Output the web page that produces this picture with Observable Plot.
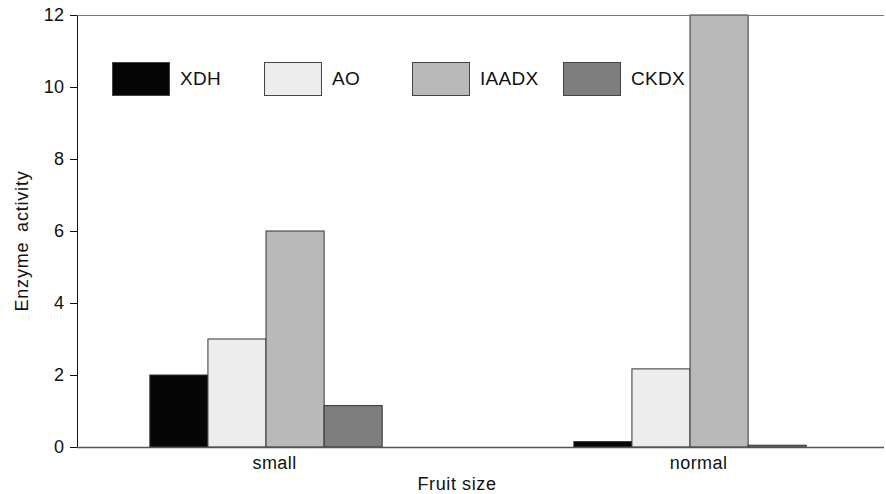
<!DOCTYPE html>
<html>
<head>
<meta charset="utf-8">
<script src="https://cdn.jsdelivr.net/npm/d3@7"></script>
<script src="https://cdn.jsdelivr.net/npm/@observablehq/plot@0.6"></script>
<style>
  html, body { margin: 0; padding: 0; background: #fff; }
  #wrap { position: relative; width: 886px; height: 494px; font-family: "Liberation Sans", Arial, sans-serif; color: #111; }
  #wrap svg text { font-size: 18px; fill: #111; letter-spacing: 0.4px; }
  #legend { position: absolute; left: 112px; top: 62px; display: flex; font-size: 19px; }
  .item { display: flex; align-items: center; }
  .sw { width: 58px; height: 34px; border: 1px solid #444; box-sizing: border-box; }
  .lab { margin-left: 10px; letter-spacing: 0.3px; }
  #xlab { position: absolute; left: 457px; top: 484px; font-size: 18px; letter-spacing: 0.6px; transform: translate(-50%, -50%); white-space: nowrap; }
  #ylab { position: absolute; left: 22px; top: 241px; font-size: 18px; letter-spacing: 0.8px; word-spacing: 4px; transform: translate(-50%, -50%) rotate(-90deg); white-space: nowrap; }
</style>
</head>
<body>
<div id="wrap"><div id="legend"></div><div id="xlab"></div><div id="ylab"></div></div>
<script>
const sizes = ["small", "normal"];
const enzymes = ["XDH", "AO", "IAADX", "CKDX"];
const xdh = [2.0, 0.15];
const ao = [3.0, 2.17];
const iaadx = [6.0, 12.0];
const ckdx = [1.15, 0.05];
const yTicks = [0, 2, 4, 6, 8, 10, 12];
const colors = ["#050505", "#ededed", "#b9b9b9", "#7e7e7e"];
const xTitle = "Fruit size";
const yTitle = "Enzyme activity";

const series = [xdh, ao, iaadx, ckdx];
const barW = 0.137;
const labelShift = 0.019;
const rows = [];
sizes.forEach((s, i) => {
  enzymes.forEach((e, j) => {
    rows.push({size: s, enzyme: e, value: series[j][i], x1: i + (j - 2) * barW, x2: i + (j - 1) * barW});
  });
});

const chart = Plot.plot({
  width: 886,
  height: 494,
  marginLeft: 77,
  marginRight: 2,
  marginTop: 15,
  marginBottom: 47,
  style: {fontFamily: "Liberation Sans, Arial, sans-serif", fontSize: "18px", color: "#111", background: "#fff"},
  x: {
    domain: [-0.4458, 1.4575],
    ticks: sizes.map((s, i) => i + labelShift),
    tickFormat: v => sizes[Math.round(v)],
    tickSize: 0,
    tickPadding: 9,
    label: null
  },
  y: {
    domain: [0, 12],
    ticks: yTicks,
    tickSize: 7,
    tickPadding: 6,
    line: true,
    label: null
  },
  color: {domain: enzymes, range: colors},
  marks: [
    Plot.rectY(rows, {x1: "x1", x2: "x2", y: "value", fill: "enzyme", stroke: "#333", strokeWidth: 1}),
    Plot.ruleY([0], {stroke: "#555", strokeWidth: 1.5}),
    Plot.ruleY([12], {stroke: "#777", strokeWidth: 1.2})
  ]
});
document.getElementById("wrap").prepend(chart);
document.getElementById("xlab").textContent = xTitle;
document.getElementById("ylab").textContent = yTitle;

const legend = document.getElementById("legend");
const gaps = [152, 148, 151, 0];
enzymes.forEach((e, j) => {
  const it = document.createElement("div");
  it.className = "item";
  it.style.width = gaps[j] ? gaps[j] + "px" : "auto";
  const sw = document.createElement("div");
  sw.className = "sw";
  sw.style.background = colors[j];
  const lab = document.createElement("span");
  lab.className = "lab";
  lab.textContent = e;
  it.append(sw, lab);
  legend.append(it);
});
</script>
</body>
</html>
